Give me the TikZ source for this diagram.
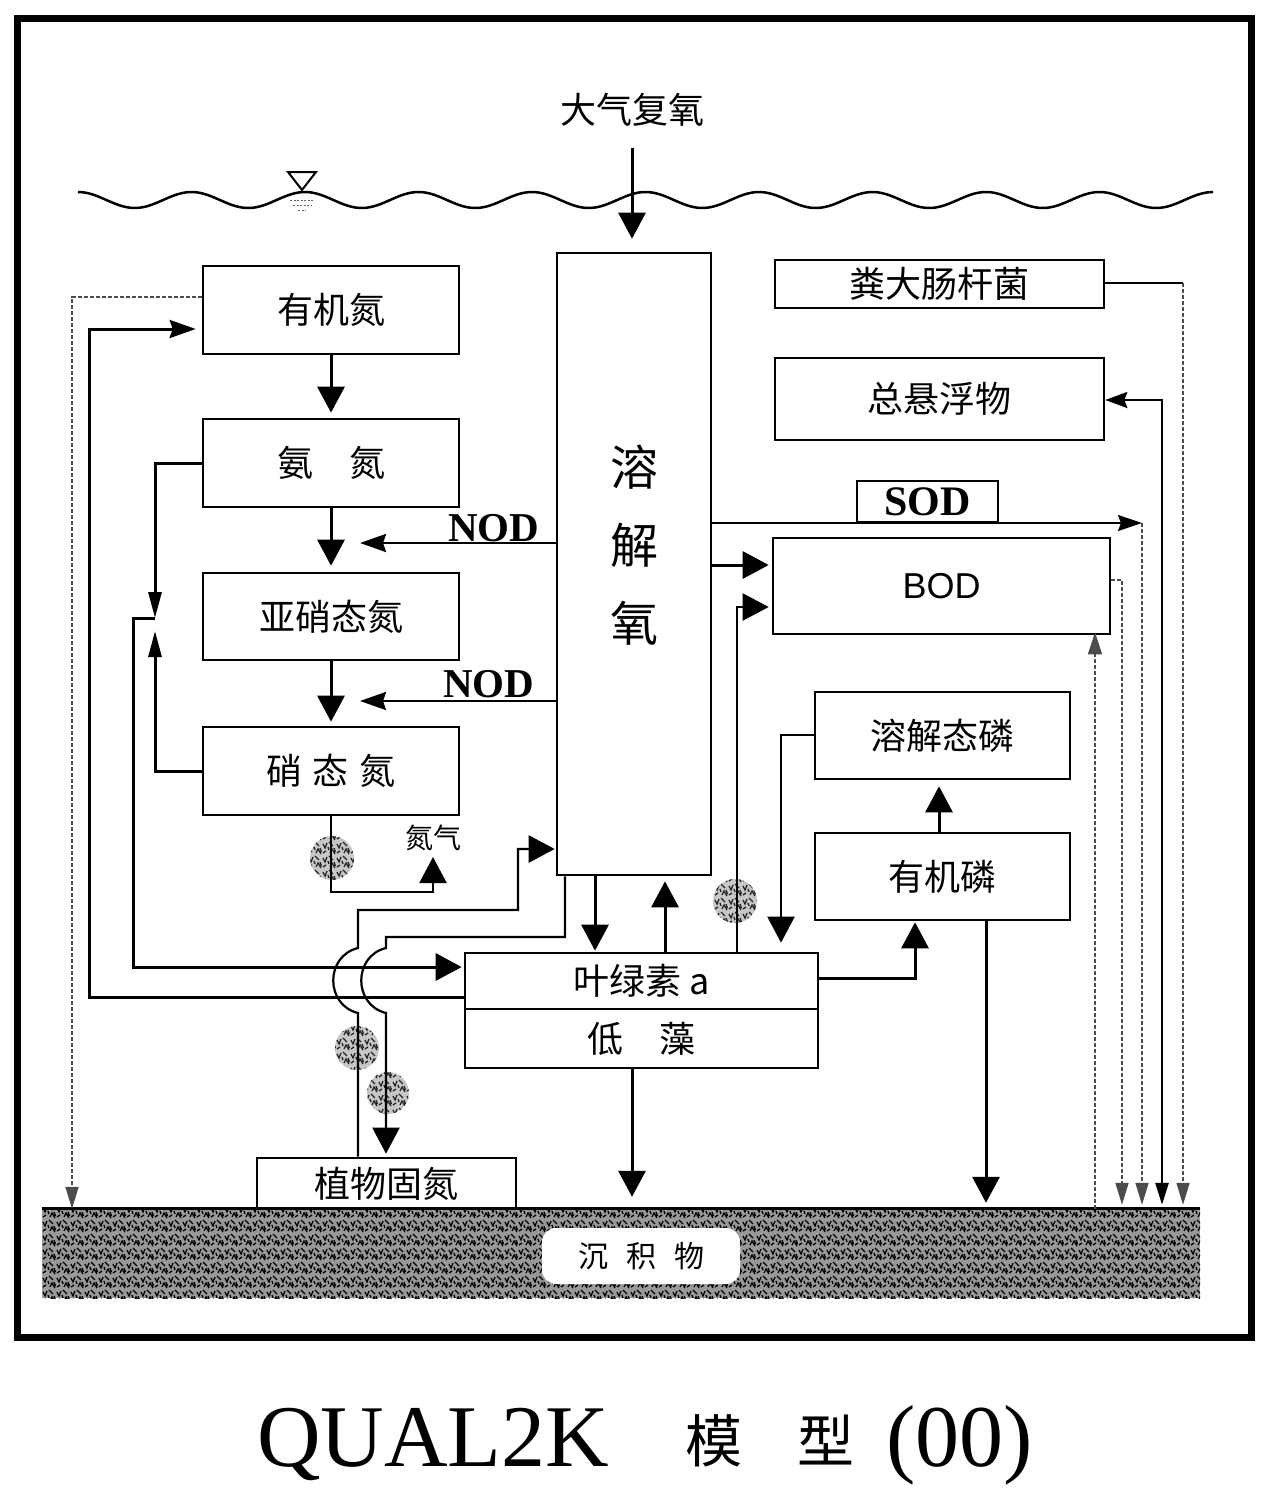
\documentclass[tikz,border=0pt]{standalone}
\usepackage{fontspec}
\setmainfont{Noto Sans CJK SC}
\newfontfamily\tnr{Liberation Serif}
\newfontfamily\arl{Liberation Sans}
\usetikzlibrary{arrows.meta,patterns,calc}

% grainy texture for the sediment and the small particle balls
\pgfdeclarepatternformonly{grit}{\pgfqpoint{-1pt}{-1pt}}{\pgfqpoint{15pt}{15pt}}{\pgfqpoint{14pt}{14pt}}{%
  \pgfsetlinewidth{1.3pt}%
  \pgfpathmoveto{\pgfqpoint{1pt}{11pt}}\pgfpathlineto{\pgfqpoint{3pt}{7pt}}\pgfpathlineto{\pgfqpoint{5pt}{12pt}}%
  \pgfpathmoveto{\pgfqpoint{7pt}{13pt}}\pgfpathlineto{\pgfqpoint{11pt}{9pt}}%
  \pgfpathmoveto{\pgfqpoint{8pt}{2pt}}\pgfpathlineto{\pgfqpoint{10pt}{6pt}}\pgfpathlineto{\pgfqpoint{13pt}{1pt}}%
  \pgfpathmoveto{\pgfqpoint{1pt}{2pt}}\pgfpathlineto{\pgfqpoint{4pt}{4pt}}%
  \pgfpathmoveto{\pgfqpoint{12pt}{7pt}}\pgfpathlineto{\pgfqpoint{13.5pt}{3pt}}%
  \pgfpathmoveto{\pgfqpoint{6pt}{8pt}}\pgfpathlineto{\pgfqpoint{7pt}{5pt}}%
  \pgfusepath{stroke}%
}

\begin{document}
\begin{tikzpicture}[x=1pt,y=-1pt,
  box/.style={draw, line width=2.6pt, inner sep=0pt, font=\fontsize{36}{40}\selectfont},
  lbl/.style={inner sep=0pt, font=\fontsize{36}{40}\selectfont},
  boldlbl/.style={inner sep=0pt, font=\tnr\bfseries\fontsize{41}{44}\selectfont},
  flow/.style={line width=3pt, -{Triangle[length=26pt,width=27pt]}},
  thinflow/.style={line width=2.2pt, -{Triangle[length=26pt,width=27pt]}},
  slimflow/.style={line width=3pt, -{Triangle[length=26pt,width=13pt]}},
  stflow/.style={line width=2.6pt, -{Stealth[length=26pt,width=18pt,inset=3pt]}},
  dotline/.style={line width=1.6pt, black!70, dash pattern=on 4pt off 2pt},
  smalltip/.style={-{Triangle[length=22pt,width=13pt]}},
  ball/.style={preaction={fill=black!22}, pattern=grit, pattern color=black!85},
]
\useasboundingbox (0,0) rectangle (1267,1499);

% outer frame
\draw[line width=7pt] (17,18) rectangle (1251,1337);

% water surface and level mark
\draw[line width=2.5pt] plot[domain=78:1213, samples=320, smooth] (\x,{200-8*cos(3.1718*(\x-78))});
\draw[line width=2pt, line join=miter] (288,172) -- (316,172) -- (302,190) -- cycle;
\draw[line width=1pt, black!60, dash pattern=on 2pt off 1.5pt] (290,200) -- (314,200) (293,205) -- (311,205) (298,210) -- (306,210);

% sediment bed
\node[draw=none, preaction={fill=black!40}, pattern=grit, pattern color=black,
      minimum width=1158pt, minimum height=89pt, inner sep=0pt] (sed) at (621,1253.5) {};
\draw[line width=3pt] (sed.north west) -- (sed.north east);
\node[fill=white, rounded corners=14pt, minimum width=198pt, minimum height=56pt, inner sep=0pt,
      font=\fontsize{30}{34}\selectfont] (sedlbl) at (641,1256) {沉\hspace{18pt}积\hspace{18pt}物};

% state variables
\node[box, minimum width=256pt, minimum height=88pt] (orgN) at (331,310) {有机氮};
\node[box, minimum width=256pt, minimum height=88pt] (nh4) at (331,463) {氨　氮};
\node[box, minimum width=256pt, minimum height=87pt] (no2) at (331,616.5) {亚硝态氮};
\node[box, minimum width=256pt, minimum height=88pt] (no3) at (331,771) {硝\hspace{11pt}态\hspace{11pt}氮};
\node[box, minimum width=154pt, minimum height=622pt] (do) at (634,564) {};
\node[lbl, align=center, font=\fontsize{48}{78}\selectfont] (dotxt) at (634,545) {溶\\解\\氧};
\node[box, minimum width=329pt, minimum height=48pt] (coli) at (939.5,284) {粪大肠杆菌};
\node[box, minimum width=329pt, minimum height=82pt] (tss) at (939.5,399) {总悬浮物};
\node[box, minimum width=141pt, minimum height=41pt, font=\tnr\bfseries\fontsize{42}{44}\selectfont] (sod) at (927.5,501.5) {SOD};
\node[box, minimum width=337pt, minimum height=96pt, font=\arl\fontsize{36}{40}\selectfont] (bod) at (941.5,586) {BOD};
\node[box, minimum width=255pt, minimum height=87pt] (dp) at (942.5,735.5) {溶解态磷};
\node[box, minimum width=255pt, minimum height=87pt] (op) at (942.5,876.5) {有机磷};
\node[box, minimum width=353pt, minimum height=56pt] (chl) at (641.5,981) {叶绿素 a};
\node[box, minimum width=353pt, minimum height=59pt] (alg) at (641.5,1038.5) {低　藻};
\node[box, minimum width=259pt, minimum height=51pt] (fix) at (386.5,1183.5) {植物固氮};

% free labels
\node[lbl] (air) at (632,110) {大气复氧};
\node[lbl, font=\fontsize{28}{32}\selectfont] (n2) at (433,838) {氮气};
\node[boldlbl, anchor=base west] (nodA) at (448,541) {NOD};
\node[boldlbl, anchor=base west] (nodB) at (443,697) {NOD};

% particle balls (drawn beneath the lines)
\path[ball] (332,858) circle (22);
\path[ball] (357,1048) circle (22);
\path[ball] (388,1093) circle (21);
\path[ball] (735,901) circle (22);

% bend points
\coordinate (airTop) at (632,148);
\coordinate (kNODa) at (360,543);
\coordinate (kNODb) at (360,701);
\coordinate (jN) at (155,618);
\coordinate (jNup) at (155,631);
\coordinate (upL) at (133,618);
\coordinate (upLb) at (133,967);
\coordinate (dA) at (89,997);
\coordinate (dB) at (89,329);
\coordinate (sA) at (72,297);
\coordinate (gB) at (433,892);
\coordinate (gC) at (433,857);
\coordinate (pA) at (358,1013);
\coordinate (pB) at (358,948);
\coordinate (pC) at (358,910);
\coordinate (pD) at (518,910);
\coordinate (pE) at (518,849);
\coordinate (qA) at (565,937);
\coordinate (qB) at (386,937);
\coordinate (qC) at (386,948);
\coordinate (qD) at (386,1013);
\coordinate (xDn) at (595,900);
\coordinate (xUp) at (665,900);
\coordinate (yB1) at (740,565);
\coordinate (kChl) at (737,607);
\coordinate (kDp) at (781,735);
\coordinate (kOp) at (915,978);
\coordinate (xOp) at (939,800);
\coordinate (xOs) at (986,1000);
\coordinate (xAs) at (632,1100);
\coordinate (kSOD) at (1142,523);
\coordinate (kB) at (1122,580);
\coordinate (xRes) at (1095,900);
\coordinate (kT) at (1162,400);
\coordinate (kC) at (1183,283);

% reaeration
\draw[flow, shorten >=13pt] (airTop) -- (do.north -| airTop);

% nitrogen chain
\draw[flow, shorten >=5pt] (orgN) -- (nh4);
\draw[flow, shorten >=6pt] (nh4) -- (no2);
\draw[flow, shorten >=4pt] (no2) -- (no3);

% nitrification oxygen demand
\draw[stflow] (do.west |- kNODa) -- (kNODa);
\draw[stflow] (do.west |- kNODb) -- (kNODb);

% algal uptake of ammonia and nitrate
\draw[slimflow] (nh4.west) -| (jN);
\draw[slimflow] (no3.west) -| (jNup);
\draw[flow, shorten >=2pt] (jN) -- (upL) -- (upLb) -- (chl.west |- upLb);

% algal death to organic nitrogen
\draw[stflow, line width=3pt, shorten >=6pt] (chl.west |- dA) -- (dA) -- (dB) -- (orgN.west |- dB);

% organic nitrogen settling
\draw[dotline, smalltip] (orgN.west |- sA) -- (sA) -- (sA |- sed.north);

% denitrification
\draw[thinflow] (no3.south) |- (gB) -- (gC);

% plant nitrogen fixation loop
\draw[thinflow, shorten >=1pt] (fix.north -| pA) -- (pA) .. controls (325,1005) and (325,956) .. (pB) -- (pC) -- (pD) -- (pE) -- (do.west |- pE);
\draw[thinflow, shorten >=3pt] (do.south -| qA) -- (qA) -- (qB) -- (qC) .. controls (353,956) and (353,1005) .. (qD) -- (fix.north -| qD);

% oxygen and algae
\draw[flow, shorten >=1pt] (do.south -| xDn) -- (chl.north -| xDn);
\draw[flow, shorten >=5pt] (chl.north -| xUp) -- (do.south -| xUp);

% BOD inputs
\draw[flow, shorten >=3pt] (do.east |- yB1) -- (bod.west |- yB1);
\draw[thinflow, shorten >=3pt] (chl.north -| kChl) -- (kChl) -- (bod.west |- kChl);

% phosphorus
\draw[thinflow, shorten >=9pt] (dp.west |- kDp) -- (kDp) -- (chl.north -| kDp);
\draw[flow, shorten >=1pt] (chl.east |- kOp) -- (kOp) -- (op.south -| kOp);
\draw[flow, shorten >=6pt] (op.north -| xOp) -- (dp.south -| xOp);
\draw[flow, shorten >=6pt] (op.south -| xOs) -- (sed.north -| xOs);

% algal settling
\draw[flow, shorten >=12pt] (alg.south -| xAs) -- (sed.north -| xAs);

% sediment oxygen demand
\draw[line width=2pt, -{Stealth[length=24pt,width=16pt,inset=3pt]}] (do.east |- kSOD) -- (kSOD);
\draw[dotline, smalltip, shorten >=4pt] (kSOD) -- (kSOD |- sed.north);

% BOD settling and release
\draw[dotline, smalltip, shorten >=4pt] (bod.east |- kB) -- (kB) -- (kB |- sed.north);
\draw[dotline, -{Triangle[length=22pt,width=14pt]}, shorten >=-3pt] (sed.north -| xRes) -- (bod.south -| xRes);

% suspended solids exchange
\draw[line width=2.6pt, {Stealth[length=22pt,width=16pt,inset=3pt]}-{Triangle[length=22pt,width=13pt]}, shorten >=4pt] (tss.east |- kT) -- (kT) -- (kT |- sed.north);

% coliform decay to bed
\draw[line width=2pt] (coli.east |- kC) -- (kC);
\draw[dotline, smalltip, shorten >=4pt] (kC) -- (kC |- sed.north);

% title
\node[inner sep=0pt, anchor=base west, font=\tnr\fontsize{88}{90}\selectfont] (ttl) at (257,1466) {QUAL2K};
\node[inner sep=0pt, anchor=base west, font=\fontsize{57}{60}\selectfont] (ttlA) at (685,1462) {模};
\node[inner sep=0pt, anchor=base west, font=\fontsize{57}{60}\selectfont] (ttlB) at (797,1462) {型};
\node[inner sep=0pt, anchor=base west, font=\tnr\fontsize{88}{90}\selectfont] (ttlC) at (886,1466) {(00)};
\end{tikzpicture}
\end{document}
